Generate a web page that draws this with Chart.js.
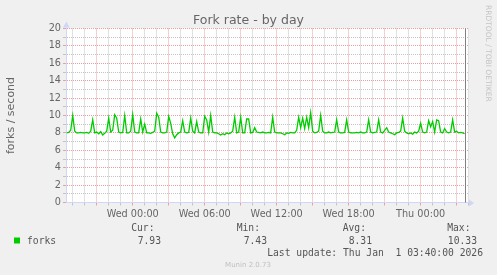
<!DOCTYPE html>
<html>
<head>
    <title>Fork rate - by day</title>
    <script src="https://cdn.jsdelivr.net/npm/chart.js"></script>
    <style>
        body { margin: 0; background: #f0f0f0; }
    </style>
</head>
<body>
    <canvas id="myChart" width="497" height="275"></canvas>
    <script>
        // samples every 10 minutes, hours counted from Tue 00:00 (Tue 18:30 .. Thu 03:40)
        var startHour = 18.5;
        var stepHours = 1 / 6;
        var forks = [
            8.0, 8.05, 8.3, 10.0, 8.2, 8.0, 8.0, 8.05, 8.0, 8.0,
            8.05, 7.95, 8.2, 9.5, 8.0, 8.1, 7.9, 8.15, 7.75, 7.95,
            8.2, 9.7, 8.1, 8.3, 10.1, 9.7, 8.1, 8.0, 8.05, 10.0,
            8.0, 8.0, 8.2, 10.1, 8.1, 8.0, 8.0, 9.6, 8.1, 9.0,
            8.0, 8.0, 7.95, 8.05, 8.2, 10.25, 9.8, 8.1, 8.0, 8.0,
            8.1, 9.9, 9.1, 7.9, 7.43, 7.8, 8.0, 8.1, 9.4, 8.1,
            8.0, 8.05, 9.7, 8.2, 8.0, 9.3, 8.1, 8.0, 8.0, 9.9,
            9.5, 8.1, 10.0, 8.1, 8.0, 8.0, 7.9, 7.75, 7.9, 7.8,
            8.0, 7.9, 8.0, 8.2, 9.8, 8.0, 8.1, 9.8, 8.0, 8.0,
            9.6, 9.6, 8.0, 8.05, 8.6, 8.1, 8.05, 8.0, 8.1, 8.0,
            8.0, 8.05, 8.0, 9.8, 8.1, 8.0, 8.0, 8.0, 7.9, 7.8,
            8.0, 7.95, 8.05, 8.0, 8.0, 8.3, 9.8, 8.6, 9.7, 8.5,
            9.8, 8.6, 10.33, 8.2, 8.0, 8.05, 8.2, 10.0, 8.2, 8.0,
            8.0, 8.1, 8.0, 8.05, 8.1, 9.5, 8.1, 8.0, 8.0, 8.05,
            9.5, 8.1, 8.0, 8.0, 8.0, 8.05, 8.0, 8.1, 8.0, 8.0,
            8.1, 9.5, 8.1, 8.0, 8.05, 8.1, 9.5, 8.1, 8.0, 8.3,
            8.6, 8.1, 8.0, 7.9, 7.8, 8.0, 8.05, 8.2, 9.7, 8.2,
            8.0, 7.9, 8.0, 7.85, 8.1, 8.0, 8.2, 9.1, 8.1, 8.0,
            8.1, 9.4, 8.7, 9.3, 8.1, 9.5, 9.4, 8.1, 8.0, 8.5,
            8.1, 8.0, 8.1, 9.5, 8.1, 8.2, 8.0, 8.05, 8.0, 7.93
        ];

        var xTickHours = [24, 30, 36, 42, 48];
        var xTickLabels = ['Wed 00:00', 'Wed 06:00', 'Wed 12:00', 'Wed 18:00', 'Thu 00:00'];
        var lastUpdateHour = 51 + 40 / 60;

        var seriesName = 'forks';
        var statNames = ['Cur:', 'Min:', 'Avg:', 'Max:'];
        var statValues = ['7.93', '7.43', '8.31', '10.33'];
        var lastUpdate = 'Last update: Thu Jan  1 03:40:00 2026';

        var points = forks.map(function(v, i) {
            return { x: startHour + i * stepHours, y: v };
        });

        var gridRed = '#e8a0a0';
        var gridGray = '#c4c4c4';
        var axisBlue = '#cfd6f8';
        var fontGray = '#666666';

        var munin = {
            id: 'munin',
            beforeDraw: function(chart) {
                var ctx = chart.ctx, a = chart.chartArea;
                ctx.save();
                ctx.fillStyle = '#f0f0f0';
                ctx.fillRect(0, 0, chart.width, chart.height);
                ctx.fillStyle = '#ffffff';
                ctx.fillRect(a.left, a.top, a.right - a.left, a.bottom - a.top);
                ctx.restore();
            },
            beforeDatasetsDraw: function(chart) {
                var ctx = chart.ctx, a = chart.chartArea;
                var x = Math.round(chart.scales.x.getPixelForValue(lastUpdateHour)) + 0.5;
                ctx.save();
                ctx.strokeStyle = '#808080';
                ctx.lineWidth = 1;
                ctx.beginPath();
                ctx.moveTo(x, a.top);
                ctx.lineTo(x, a.bottom);
                ctx.stroke();
                ctx.restore();
            },
            afterDraw: function(chart) {
                var ctx = chart.ctx, a = chart.chartArea;
                ctx.save();
                // axis arrows
                ctx.fillStyle = axisBlue;
                ctx.beginPath();
                ctx.moveTo(a.left - 3, a.top - 1);
                ctx.lineTo(a.left + 3.5, a.top - 1);
                ctx.lineTo(a.left + 0.5, a.top - 7);
                ctx.closePath();
                ctx.fill();
                ctx.beginPath();
                ctx.moveTo(a.right, a.bottom - 3);
                ctx.lineTo(a.right, a.bottom + 4);
                ctx.lineTo(a.right + 5, a.bottom + 0.5);
                ctx.closePath();
                ctx.fill();

                // title
                ctx.fillStyle = fontGray;
                ctx.font = '12.5px "DejaVu Sans"';
                ctx.textAlign = 'center';
                ctx.textBaseline = 'alphabetic';
                ctx.fillText('Fork rate - by day', 248.5, 24);

                // vertical unit label
                ctx.save();
                ctx.translate(11, (a.top + a.bottom) / 2);
                ctx.rotate(-Math.PI / 2);
                ctx.font = '11px "DejaVu Sans"';
                ctx.textBaseline = 'middle';
                ctx.fillText('forks / second', 0, 0);
                ctx.restore();

                // watermark on the right
                ctx.save();
                ctx.translate(488, 5);
                ctx.rotate(Math.PI / 2);
                ctx.font = '7.5px "DejaVu Sans"';
                ctx.textAlign = 'left';
                ctx.textBaseline = 'middle';
                ctx.fillStyle = '#c4c4c4';
                ctx.fillText('RRDTOOL / TOBI OETIKER', 0, 0);
                ctx.restore();

                // legend
                ctx.font = '9.7px "DejaVu Sans Mono"';
                ctx.fillStyle = '#00cc00';
                ctx.fillRect(14, 237.5, 6, 6);
                ctx.fillStyle = '#555555';
                ctx.textAlign = 'left';
                ctx.fillText(seriesName, 27, 243.5);
                ctx.textAlign = 'right';
                var nameRight = [154.5, 260, 366, 470.5];
                var valueRight = [161, 267, 372, 477];
                for (var i = 0; i < statNames.length; i++) {
                    ctx.fillText(statNames[i], nameRight[i], 230.8);
                    ctx.fillText(statValues[i], valueRight[i], 243.5);
                }
                ctx.fillText(lastUpdate, 483, 255.5);

                ctx.textAlign = 'center';
                ctx.fillStyle = '#c0c0c0';
                ctx.font = '7px "DejaVu Sans"';
                ctx.fillText('Munin 2.0.73', 248, 266.5);
                ctx.restore();
            }
        };

        function gridColor(step) {
            return function(c) {
                if (!c.tick) return gridGray;
                return Math.round(c.tick.value) % step === 0 ? gridRed : gridGray;
            };
        }

        var ctx = document.getElementById('myChart').getContext('2d');
        var myChart = new Chart(ctx, {
            type: 'line',
            data: {
                datasets: [{
                    label: seriesName,
                    data: points,
                    borderColor: '#00cc00',
                    borderWidth: 1.3,
                    pointRadius: 0,
                    tension: 0,
                    fill: false
                }]
            },
            options: {
                responsive: false,
                animation: false,
                devicePixelRatio: 1,
                layout: { padding: { top: 28.5, right: 28, bottom: 0, left: 0 } },
                plugins: {
                    legend: { display: false },
                    tooltip: { enabled: false }
                },
                scales: {
                    x: {
                        type: 'linear',
                        min: 18.44,
                        max: 52.03,
                        afterFit: function(scale) { scale.height = 72.5; },
                        grid: {
                            color: gridColor(3),
                            tickColor: gridColor(3),
                            lineWidth: 1,
                            tickLength: 3
                        },
                        border: { display: true, color: axisBlue, width: 1, dash: [1, 1] },
                        ticks: {
                            stepSize: 1,
                            includeBounds: false,
                            autoSkip: false,
                            maxRotation: 0,
                            padding: 3,
                            color: fontGray,
                            font: { family: 'DejaVu Sans', size: 9.7 },
                            callback: function(v) {
                                var k = xTickHours.indexOf(Math.round(v));
                                return k >= 0 ? xTickLabels[k] : '';
                            }
                        }
                    },
                    y: {
                        min: 0,
                        max: 20,
                        afterFit: function(scale) { scale.width = 66; },
                        grid: {
                            color: gridColor(2),
                            tickColor: gridColor(2),
                            lineWidth: 1,
                            tickLength: 3
                        },
                        border: { display: true, color: axisBlue, width: 1, dash: [1, 1] },
                        ticks: {
                            stepSize: 1,
                            autoSkip: false,
                            padding: 2,
                            color: fontGray,
                            font: { family: 'DejaVu Sans', size: 9.7 },
                            callback: function(v) {
                                return Math.round(v) % 2 === 0 ? String(v) : '';
                            }
                        }
                    }
                }
            },
            plugins: [munin]
        });
    </script>
</body>
</html>
